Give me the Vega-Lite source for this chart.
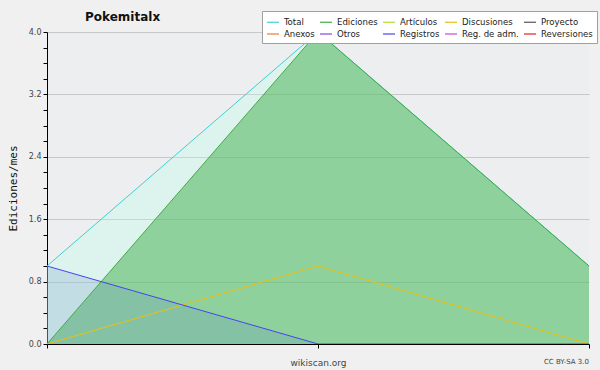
{
  "$schema": "https://vega.github.io/schema/vega-lite/v6.json",
  "width": 542,
  "height": 312,
  "autosize": "none",
  "padding": {"left": 47, "top": 32, "right": 11, "bottom": 26},
  "background": "#F0F0F0",
  "view": {"fill": "#EDEEF0", "stroke": null},
  "title": {
    "text": "Pokemitalx",
    "anchor": "start",
    "frame": "group",
    "dx": 38,
    "offset": -13,
    "font": "DejaVu Sans",
    "fontSize": 12,
    "fontWeight": "bold",
    "color": "#111111"
  },
  "data": {
    "values": [
      {"x": 0, "serie": "Total", "v": 1},
      {"x": 1, "serie": "Total", "v": 4},
      {"x": 2, "serie": "Total", "v": 1},
      {"x": 0, "serie": "Ediciones", "v": 0},
      {"x": 1, "serie": "Ediciones", "v": 4},
      {"x": 2, "serie": "Ediciones", "v": 1},
      {"x": 0, "serie": "Discusiones", "v": 0},
      {"x": 1, "serie": "Discusiones", "v": 1},
      {"x": 2, "serie": "Discusiones", "v": 0},
      {"x": 0, "serie": "Registros", "v": 1},
      {"x": 1, "serie": "Registros", "v": 0},
      {"x": 2, "serie": "Registros", "v": 0}
    ]
  },
  "encoding": {
    "x": {
      "field": "x",
      "type": "quantitative",
      "scale": {"domain": [0, 2], "nice": false, "zero": false},
      "axis": {
        "values": [0, 1, 2],
        "labels": false,
        "grid": false,
        "title": "wikiscan.org",
        "titleFont": "DejaVu Sans",
        "titleFontSize": 9,
        "titleFontWeight": "normal",
        "titleColor": "#444444",
        "titlePadding": 10,
        "domainColor": "#000000",
        "domainWidth": 1,
        "tickColor": "#000000",
        "tickSize": 4,
        "zindex": 1
      }
    },
    "y": {
      "field": "v",
      "type": "quantitative",
      "stack": null,
      "scale": {"domain": [0, 4], "nice": false},
      "axis": {
        "values": [0, 0.2, 0.4, 0.6, 0.8, 1.0, 1.2, 1.4, 1.6, 1.8, 2.0, 2.2, 2.4, 2.6, 2.8, 3.0, 3.2, 3.4, 3.6, 3.8, 4.0],
        "labelExpr": "abs(datum.value/0.8 - round(datum.value/0.8)) < 0.001 ? format(datum.value, '.1f') : ''",
        "labelFont": "DejaVu Sans",
        "labelFontSize": 8,
        "labelColor": "#444444",
        "labelPadding": 2,
        "tickSize": 4,
        "tickColor": "#000000",
        "domainColor": "#000000",
        "grid": true,
        "gridColor": "#C8C8C8",
        "gridOpacity": {"condition": {"test": "abs(datum.value/0.8 - round(datum.value/0.8)) < 0.001", "value": 1}, "value": 0},
        "title": "Ediciones/mes",
        "titleFont": "DejaVu Sans Mono",
        "titleFontSize": 11,
        "titleFontWeight": "normal",
        "titleColor": "#111111",
        "titlePadding": 10
      }
    }
  },
  "layer": [
    {
      "transform": [{"filter": "datum.serie == 'Total'"}],
      "mark": {"type": "area", "color": "#B8FFE9", "fillOpacity": 0.3, "interpolate": "linear"}
    },
    {
      "transform": [{"filter": "datum.serie == 'Ediciones'"}],
      "mark": {"type": "area", "color": "#3AAC46", "fillOpacity": 0.48, "interpolate": "linear"}
    },
    {
      "transform": [{"filter": "datum.serie == 'Registros'"}],
      "mark": {"type": "area", "color": "#6089C6", "fillOpacity": 0.2, "interpolate": "linear"}
    },
    {
      "mark": {"type": "line", "strokeWidth": 1},
      "encoding": {
        "color": {
          "field": "serie",
          "type": "nominal",
          "sort": null,
          "scale": {
            "domain": ["Total", "Ediciones", "Artículos", "Discusiones", "Proyecto", "Anexos", "Otros", "Registros", "Reg. de adm.", "Reversiones"],
            "range": ["#40D0D0", "#44AA44", "#AADD33", "#E8C010", "#555555", "#EE7733", "#8844DD", "#4444EE", "#CC44DD", "#DD2222"]
          },
          "legend": {
            "title": null,
            "orient": "none",
            "legendX": 215,
            "legendY": -21,
            "columns": 5,
            "direction": "horizontal",
            "symbolType": "stroke",
            "symbolSize": 144,
            "symbolStrokeWidth": 1.2,
            "labelFont": "DejaVu Sans Condensed",
            "labelFontSize": 9.5,
            "labelColor": "#222222",
            "labelOffset": 4,
            "columnPadding": 2,
            "rowPadding": -2,
            "padding": 4,
            "fillColor": "#FFFFFF",
            "strokeColor": "#A0A0A0",
            "cornerRadius": 0
          }
        },
        "order": {"field": "x"}
      }
    },
    {
      "data": {"values": [{"x": 2, "v": 0, "t": "CC BY-SA 3.0"}]},
      "mark": {"type": "text", "align": "right", "baseline": "middle", "dy": 18, "font": "DejaVu Sans", "fontSize": 7, "color": "#444444"},
      "encoding": {
        "text": {"field": "t"}
      }
    }
  ]
}
